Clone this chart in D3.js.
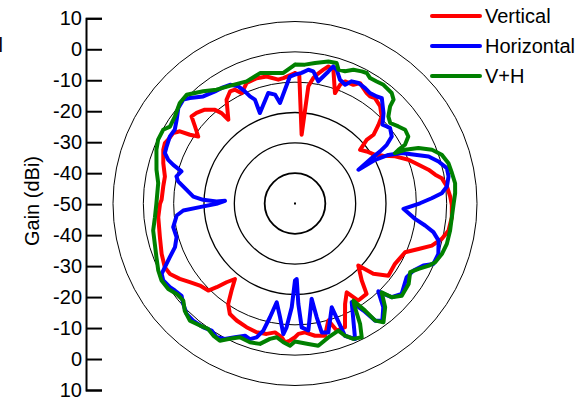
<!DOCTYPE html>
<html>
<head>
<meta charset="utf-8">
<script src="https://cdn.jsdelivr.net/npm/d3@7"></script>
<style>
  body { margin: 0; background: #fff; }
  svg { display: block; font-family: "Liberation Sans", Arial, sans-serif; }
</style>
</head>
<body>
<div id="chart"></div>
<script>
// gain rings (dBi) and the left axis labels
const rings = [-40, -30, -20, -10, 0, 10];
const tickLabels = [10, 0, -10, -20, -30, -40, -50, -40, -30, -20, -10, 0, 10];
const seriesNames = ["Vertical", "Horizontal", "V+H"];

// [angle deg clockwise from top, gain dBi]
const vertical = [[0,-7.0],[1.9,-7.5],[5.5,-27.2],[6.5,-11.1],[8.3,-8.2],[9.6,-6.9],[12,-4.9],[13.7,-3.5],[16,-4.1],[19.9,-11.3],[20.8,-8.1],[22.3,-6.5],[26.2,-6.4],[28.4,-4.9],[30.6,-5.8],[33,-6.6],[35,-6.9],[37.2,-6.4],[41.2,-7.4],[44.9,-9.5],[46.7,-12.2],[48.8,-15.6],[48.4,-18.4],[50.5,-22.2],[54,-20.8],[58.7,-19.1],[61.6,-16.9],[64.8,-13.5],[68.9,-9.9],[72.6,-7.3],[75.8,-4.6],[78.4,-2.8],[80.2,-0.9],[83.6,0.4],[87.4,1.2],[90.5,1.7],[95,1.9],[100,1.4],[103.5,-0.2],[107.1,-2.8],[110.2,-6.6],[113.9,-10.3],[121.1,-11.5],[127.7,-11.1],[131.9,-15.3],[134.4,-20.8],[139.1,-16.4],[141.6,-12.0],[146.9,-11.8],[149.8,-16.1],[153.5,-13.0],[158,-6.0],[161.8,-5.9],[164.1,-9.9],[167.2,-5.3],[171.4,-5.9],[175.6,-7.4],[178.5,-7.0],[180,-5.9],[182.1,-4.8],[184.1,-4.1],[185.7,-5.7],[188.8,-7.0],[192.3,-6.0],[196.6,-5.7],[201.4,-6.2],[206.5,-6.9],[210.5,-7.7],[213.6,-10.2],[216.1,-14.5],[218.5,-18.2],[221,-15.6],[223.1,-12.2],[224.9,-9.5],[229.2,-8.6],[233.2,-6.7],[236.8,-4.6],[240.6,-2.7],[243.9,-2.2],[249.3,-3.0],[256,-4.1],[264.3,-4.7],[269.9,-5.5],[271.6,-6.0],[277.4,-6.2],[281.7,-6.2],[287,-4.6],[292.2,-3.1],[294.9,-2.7],[296.7,-3.2],[300,-3.6],[302.1,-5.2],[303.2,-8.6],[304.7,-11.2],[307.6,-8.4],[310.1,-5.4],[312.6,-5.9],[316.1,-7.1],[319.5,-9.4],[320.9,-11.6],[321.5,-14.7],[326.6,-9.0],[329.9,-7.3],[332.2,-7.6],[334.2,-9.6],[338.1,-7.2],[343,-6.8],[347.4,-7.1],[352.3,-8.8],[354.7,-8.5],[360,-7.0]];

const horizontal = [[0,-7.5],[2.9,-6.9],[5.7,-5.7],[7.9,-6.0],[10.8,-9.0],[12,-7.7],[14.2,-5.1],[15.6,-3.1],[17.3,-3.8],[20,-6.6],[22.9,-7.5],[24.9,-5.6],[27.8,-5.1],[31.3,-5.5],[34.2,-6.0],[37.4,-5.6],[39.5,-5.0],[44.4,-8.3],[48,-11.2],[50,-10.5],[51.6,-10.0],[55.3,-11.2],[57.4,-14.1],[58.5,-17.1],[59.4,-20.6],[62,-26.3],[61.4,-19.9],[62.5,-15.3],[64.7,-11.1],[67.9,-7.3],[70.6,-3.3],[73.7,-0.7],[76.9,1.4],[80,1.4],[83.6,0.4],[86,-1.5],[87.8,-4.9],[89.9,-8.8],[92.8,-14.2],[97.3,-10.1],[99.6,-6.5],[101.7,-3.4],[104.5,-1.1],[109.4,0.1],[113.6,-0.2],[115.8,-3.0],[119.5,-5.1],[123.4,-5.9],[130.3,-3.9],[134.1,-5.6],[135.6,-8.3],[136.5,-10.1],[139.6,-5.1],[143.3,-1.8],[145.6,-3.2],[147.4,-8.1],[150.1,-12.5],[156.1,-1.1],[159.3,-3.4],[160.5,-13.7],[165.5,-6.1],[168.3,-6.6],[169.2,-11.8],[170.1,-18.1],[174,-7.9],[176.9,-9.1],[178.1,-16.9],[178.7,-25.1],[180,-24.6],[181.8,-15.8],[183.9,-9.1],[185.1,-6.8],[187.5,-12.2],[190.5,-16.9],[192.4,-11.6],[194,-6.8],[196,-4.1],[198.4,-2.9],[200.7,-3.4],[204.2,-1.7],[207.4,0.3],[210.4,1.1],[213.3,0.1],[216.5,0.8],[221,1.2],[224.5,1.0],[228.1,-0.5],[230.9,-1.8],[234.1,-1.1],[236.2,-0.4],[239.7,0.3],[242.2,-0.3],[243.9,-2.2],[246.8,-5.1],[250,-7.9],[254.1,-9.4],[259,-9.1],[264.2,-10.8],[266.4,-13.1],[267.8,-18.6],[269.8,-24.1],[272.2,-26.9],[271.5,-24.1],[272.3,-19.7],[273.9,-16.4],[277.2,-14.0],[280.7,-10.8],[282.9,-9.9],[285.8,-11.1],[287.6,-7.9],[289,-5.8],[291.2,-4.0],[293.9,-3.7],[298.2,-3.2],[301.5,-3.5],[305.3,-2.2],[309.3,-0.3],[312.9,0.3],[315.1,-0.9],[319.4,-3.5],[324.5,-4.6],[327.6,-4.9],[331.3,-5.4],[334.2,-7.1],[335.9,-9.5],[337.2,-11.7],[338.9,-13.3],[338.8,-18.0],[346.4,-12.5],[349.6,-13.5],[351.5,-16.5],[357.7,-8.1],[360,-7.5]];

const vPlusH = [[0,-4.2],[4.1,-4.1],[8.1,-3.2],[13.2,-1.9],[16.5,-1.7],[18,-3.6],[20.7,-3.4],[23.6,-1.9],[26.8,-1.2],[28.8,-0.9],[30.9,-1.8],[33.8,-1.6],[36.7,-1.2],[38.5,-1.4],[41.2,-1.6],[43.5,-2.8],[44.4,-5.2],[47,-7.9],[49.8,-8.9],[53.3,-7.5],[56.2,-6.3],[59.4,-6.6],[61.9,-8.9],[62.6,-11.6],[63.3,-13.1],[64,-9.6],[65.8,-5.4],[68.6,-1.5],[71.6,1.0],[75.3,2.3],[79,2.7],[82.8,3.2],[86.3,2.9],[90.1,2.3],[95,1.9],[99.9,1.9],[104.9,1.8],[109,1.2],[112.7,0.1],[115.1,-1.5],[117.9,-3.9],[120.8,-5.8],[125.3,-4.1],[130.8,-3.5],[134.1,-5.6],[135.7,-9.1],[139,-4.7],[143.3,-1.2],[145.6,-3.2],[146.8,-7.8],[149,-12.6],[150,-10.5],[151.6,-4.9],[153.5,-0.7],[156.7,-1.4],[159.3,-3.4],[161.2,-5.7],[166,-4.5],[170.7,-2.5],[174.6,-3.5],[180,-4.5],[182,-3.1],[184.8,-4.1],[187.8,-5.5],[190.5,-4.6],[194,-2.3],[198,-1.9],[202.4,-2.3],[205.7,-0.5],[208.7,1.6],[211.7,1.2],[214.7,0.3],[217.9,1.0],[221.9,1.9],[225.8,0.7],[229,-1.2],[232.6,-0.9],[236,0.4],[240,0.8],[243.9,0.2],[248.8,-1.0],[253.9,-1.9],[259.2,-2.4],[264.4,-3.6],[269.9,-4.3],[278.5,-4.4],[283.7,-3.0],[291.2,-1.0],[295,-0.2],[299.2,-0.2],[301.6,-1.6],[305.9,-1.1],[311.1,0.4],[315.1,0.6],[320.7,-2.2],[325.4,-4.4],[332.5,-5.9],[338.4,-6.7],[345,-5.5],[350.6,-6.4],[354.9,-6.8],[360,-4.2]];

const colors = ["#ff0000", "#0000ff", "#008000"];

const width = 581, height = 400;
const cx = 295, cy = 203.5;

const svg = d3.select("#chart").append("svg")
    .attr("width", width)
    .attr("height", height);

const r = d3.scaleLinear().domain([-50, 10]).range([0, 182]);
const angle = d3.scaleLinear().domain([0, 360]).range([0, 2 * Math.PI]);

const g = svg.append("g").attr("transform", `translate(${cx},${cy})`);

// rings
g.selectAll(".ring")
    .data(rings)
    .enter().append("circle")
    .attr("class", "ring")
    .attr("r", d => r(d))
    .attr("fill", "none")
    .attr("stroke", "#000")
    .attr("stroke-width", d => d <= -40 ? 1.8 : (d <= -20 ? 1.3 : 1));

g.append("rect")
    .attr("x", -1).attr("y", -1)
    .attr("width", 2).attr("height", 2)
    .attr("fill", "#000");

// traces
const line = d3.lineRadial()
    .angle(d => angle(d[0]))
    .radius(d => r(d[1]));

[vertical, horizontal, vPlusH].forEach((s, i) => {
    g.append("path")
        .attr("d", line(s))
        .attr("fill", "none")
        .attr("stroke", colors[i])
        .attr("stroke-width", 4)
        .attr("stroke-linejoin", "round")
        .attr("stroke-linecap", "round");
});

// left gain axis
const y = d3.scaleLinear().domain([0, tickLabels.length - 1]).range([18.3, 390]);
const axis = d3.axisLeft(y)
    .tickValues(d3.range(tickLabels.length))
    .tickFormat(i => tickLabels[i])
    .tickSize(-16)
    .tickPadding(4);

const ax = svg.append("g")
    .attr("transform", "translate(86,0)")
    .call(axis);
ax.selectAll("path, line").attr("stroke", "#000").attr("stroke-width", 2);
ax.selectAll("text")
    .attr("fill", "#000")
    .style("font-size", "20px")
    .style("font-family", "'Liberation Sans', Arial, sans-serif");

svg.append("text")
    .attr("transform", "translate(39,201) rotate(-90)")
    .attr("text-anchor", "middle")
    .style("font-size", "20px")
    .text("Gain (dBi)");

// clipped glyph at the top-left edge
svg.append("text")
    .attr("x", -1.5).attr("y", 52)
    .style("font-size", "20px")
    .text("l");

// legend
const legend = svg.append("g").attr("transform", "translate(432,16)");
seriesNames.forEach((name, i) => {
    const row = legend.append("g").attr("transform", `translate(0,${i * 30})`);
    row.append("line")
        .attr("x1", 0).attr("x2", 48)
        .attr("stroke", colors[i])
        .attr("stroke-width", 4)
        .attr("stroke-linecap", "round");
    row.append("text")
        .attr("x", 53)
        .attr("y", 7)
        .style("font-size", "20px")
        .text(name);
});
</script>
</body>
</html>
